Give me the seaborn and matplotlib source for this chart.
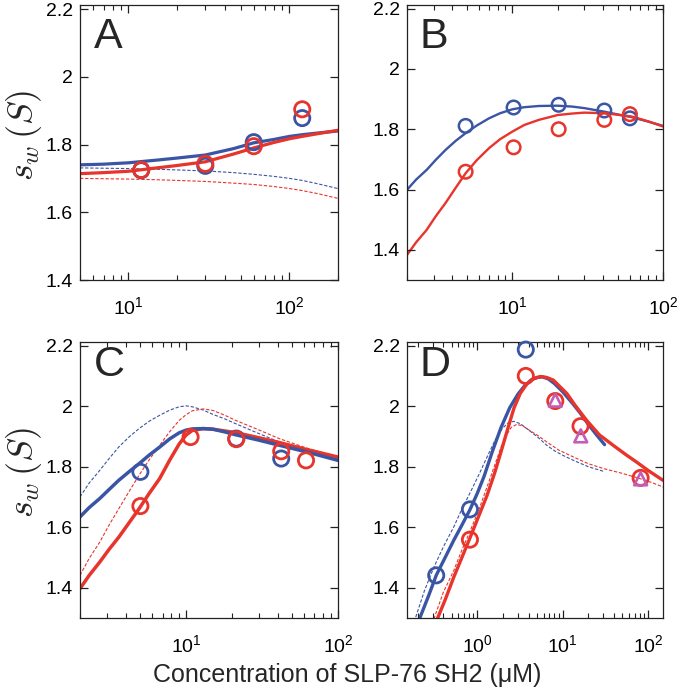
import matplotlib
matplotlib.use('Agg')
import matplotlib.pyplot as plt
import seaborn as sns
from matplotlib.ticker import LogLocator, NullFormatter, FuncFormatter

BLUE = '#3b55a5'
RED = '#e8342b'
PINK = '#c45db4'

# ---- panel A ----
a_x = [5, 7, 10, 15, 20, 30, 45, 60, 80, 100, 120, 150, 200]
a_blue_fit = [1.740, 1.742, 1.746, 1.754, 1.760, 1.769, 1.788, 1.805, 1.815, 1.824, 1.829, 1.834, 1.840]
a_red_fit = [1.714, 1.717, 1.721, 1.731, 1.738, 1.749, 1.772, 1.790, 1.806, 1.817, 1.824, 1.832, 1.842]
a_blue_dash = [1.731, 1.730, 1.729, 1.727, 1.725, 1.722, 1.717, 1.712, 1.706, 1.700, 1.694, 1.684, 1.670]
a_red_dash = [1.700, 1.699, 1.698, 1.696, 1.694, 1.691, 1.686, 1.682, 1.676, 1.670, 1.664, 1.655, 1.641]
a_conc = [12, 30, 60, 120]
a_blue_pts = [1.724, 1.737, 1.807, 1.878]
a_red_pts = [1.725, 1.743, 1.795, 1.904]

# ---- panel B ----
b_x = [2, 2.3, 2.7, 3.1, 3.6, 4.2, 4.9, 5.8, 7, 8.3, 10, 12, 15, 20, 25, 30, 41, 50, 62, 80, 100]
b_blue_fit = [1.599, 1.633, 1.665, 1.698, 1.731, 1.761, 1.787, 1.812, 1.836, 1.853, 1.866, 1.873, 1.877, 1.878,
              1.875, 1.870, 1.858, 1.849, 1.840, 1.825, 1.811]
b_red_fit = [1.383, 1.425, 1.466, 1.511, 1.555, 1.605, 1.654, 1.697, 1.737, 1.767, 1.792, 1.814, 1.831, 1.847,
             1.852, 1.855, 1.853, 1.848, 1.842, 1.826, 1.809]
b_conc = [4.9, 10.2, 20.3, 40.8, 60.3]
b_blue_pts = [1.811, 1.872, 1.881, 1.862, 1.836]
b_red_pts = [1.659, 1.740, 1.800, 1.831, 1.850]

# ---- panel C ----
c_x = [2, 2.3, 2.7, 3.1, 3.6, 4.2, 4.9, 5.7, 6.7, 7.8, 9, 10, 11, 13, 15, 18, 21, 30, 41, 62, 100]
c_blue_fit = [1.634, 1.665, 1.695, 1.724, 1.755, 1.783, 1.810, 1.838, 1.865, 1.892, 1.912, 1.921, 1.925, 1.926,
              1.924, 1.915, 1.906, 1.888, 1.871, 1.849, 1.821]
c_red_fit = [1.397, 1.441, 1.485, 1.526, 1.567, 1.614, 1.661, 1.711, 1.761, 1.822, 1.875, 1.905, 1.920, 1.926,
             1.924, 1.918, 1.913, 1.896, 1.880, 1.857, 1.832]
c_blue_dash = [1.700, 1.746, 1.788, 1.826, 1.865, 1.898, 1.926, 1.950, 1.970, 1.987, 1.998, 2.001, 1.998, 1.987,
               1.973, 1.958, 1.943, 1.910, 1.882, 1.854, 1.825]
c_red_dash = [1.441, 1.497, 1.551, 1.606, 1.661, 1.717, 1.772, 1.822, 1.871, 1.916, 1.953, 1.972, 1.985, 1.991,
              1.986, 1.970, 1.954, 1.922, 1.893, 1.862, 1.832]
c_blue_conc = [5, 21.4, 42.3]
c_blue_pts = [1.783, 1.893, 1.827]
c_red_conc = [5, 10.7, 21.4, 42.3, 61.6]
c_red_pts = [1.670, 1.898, 1.891, 1.851, 1.821]

# ---- panel D ----
d_blue_fit_x = [0.21, 0.27, 0.33, 0.42, 0.53, 0.66, 0.82, 1.0, 1.2, 1.5, 1.9, 2.4, 3.0, 3.6, 4.3, 5.0, 5.8, 6.8,
                8, 10, 13, 16, 20, 25, 31]
d_blue_fit = [1.297, 1.375, 1.441, 1.500, 1.557, 1.607, 1.658, 1.712, 1.768, 1.850, 1.930, 1.995, 2.040, 2.068,
              2.087, 2.095, 2.097, 2.090, 2.075, 2.048, 2.010, 1.978, 1.940, 1.905, 1.873]
d_red_fit_x = [0.34, 0.42, 0.53, 0.66, 0.83, 1.0, 1.3, 1.6, 1.9, 2.3, 2.7, 3.2, 3.8, 4.5, 5.5, 6.5, 7.8, 9.5,
               11.2, 14, 19, 27, 39, 55, 73, 100, 150]
d_red_fit = [1.297, 1.360, 1.435, 1.500, 1.568, 1.625, 1.705, 1.780, 1.850, 1.930, 1.995, 2.043, 2.073, 2.090,
             2.098, 2.095, 2.086, 2.062, 2.042, 2.003, 1.954, 1.905, 1.871, 1.840, 1.816, 1.788, 1.755]
d_blue_dash_x = [0.19, 0.24, 0.31, 0.4, 0.53, 0.66, 0.83, 1.05, 1.3, 1.6, 1.9, 2.24, 2.67, 3.2, 3.8, 4.5, 5.5,
                 6.5, 8, 10, 13.4, 20, 30]
d_blue_dash = [1.303, 1.390, 1.468, 1.535, 1.601, 1.660, 1.716, 1.775, 1.832, 1.885, 1.921, 1.943, 1.950, 1.942,
               1.926, 1.910, 1.890, 1.871, 1.853, 1.838, 1.821, 1.800, 1.785]
d_red_dash_x = [0.31, 0.4, 0.53, 0.66, 0.83, 1.05, 1.3, 1.6, 1.9, 2.2, 2.5, 2.9, 3.4, 4.2, 5, 6.5, 9, 13.4, 20,
                30, 50, 80, 110, 150]
d_red_dash = [1.297, 1.385, 1.457, 1.525, 1.590, 1.660, 1.733, 1.805, 1.865, 1.905, 1.930, 1.940, 1.935, 1.918,
              1.905, 1.882, 1.855, 1.832, 1.810, 1.794, 1.778, 1.761, 1.748, 1.733]
d_blue_conc = [0.33, 0.82, 3.7]
d_blue_pts = [1.441, 1.659, 2.187]
d_red_conc = [0.82, 3.7, 8.2, 16.2, 82]
d_red_pts = [1.559, 2.100, 2.017, 1.934, 1.763]
d_tri_conc = [8.2, 16.3, 82]
d_tri_pts = [2.020, 1.902, 1.760]

y_ticks = [1.4, 1.6, 1.8, 2.0, 2.2]

sns.set_style('ticks')
plt.rcParams['font.family'] = ['Liberation Sans', 'DejaVu Sans']
plt.rcParams.update({
    'axes.linewidth': 0.9,
    'axes.edgecolor': '#222222',
    'axes.axisbelow': False,
    'xtick.direction': 'in', 'ytick.direction': 'in',
    'xtick.top': True, 'ytick.right': True,
    'xtick.color': '#222222', 'ytick.color': '#222222',
    'xtick.major.size': 6, 'ytick.major.size': 6,
    'xtick.minor.size': 3.5, 'ytick.minor.size': 3.5,
    'xtick.major.width': 0.9, 'ytick.major.width': 0.9,
    'xtick.minor.width': 0.8, 'ytick.minor.width': 0.8,
    'xtick.labelcolor': 'black', 'ytick.labelcolor': 'black',
})

fig = plt.figure(figsize=(6.8, 6.9), dpi=100)

DASH = (0, (3, 1.6))


def make_panel(rect, letter, xlim, ylim, letter_pos):
    ax = fig.add_axes(rect)
    ax.set_axisbelow(False)
    ax.set_xscale('log')
    ax.set_xlim(*xlim)
    ax.set_ylim(*ylim)
    ax.set_yticks(y_ticks)
    ax.yaxis.set_major_formatter(FuncFormatter(lambda v, _: '%g' % v))
    ax.xaxis.set_major_locator(LogLocator(base=10, numticks=12))
    ax.xaxis.set_minor_locator(LogLocator(base=10, subs=range(2, 10), numticks=12))
    ax.xaxis.set_minor_formatter(NullFormatter())
    ax.tick_params(axis='both', which='major', labelsize=14)
    ax.tick_params(axis='x', which='major', pad=12)
    ax.tick_params(axis='y', which='major', pad=5)
    ax.text(letter_pos[0], letter_pos[1], letter, transform=ax.transAxes, fontsize=31, ha='left', va='top')
    return ax


def curve(ax, x, y, color, lw, dashed=False):
    sns.lineplot(x=x, y=y, ax=ax, color=color, lw=lw, estimator=None, sort=False,
                 linestyle=DASH if dashed else '-')


def dots(ax, x, y, color, s, lw, marker='o'):
    sns.scatterplot(x=x, y=y, ax=ax, marker=marker, s=s, facecolor='none', edgecolor=color,
                    linewidth=lw, zorder=4, clip_on=False)


axA = make_panel([0.1176, 0.5942, 0.3794, 0.3986], 'A', (5, 200), (1.4, 2.212), (0.055, 0.955))
curve(axA, a_x, a_blue_dash, BLUE, 0.8, True)
curve(axA, a_x, a_red_dash, RED, 0.8, True)
curve(axA, a_x, a_blue_fit, BLUE, 2.3)
curve(axA, a_x, a_red_fit, RED, 2.3)
dots(axA, a_conc, a_blue_pts, BLUE, 120, 2.0)
dots(axA, a_conc, a_red_pts, RED, 120, 2.0)

axB = make_panel([0.5985, 0.5942, 0.3765, 0.3986], 'B', (2, 100), (1.3, 2.212), (0.05, 0.955))
curve(axB, b_x, b_blue_fit, BLUE, 1.7)
curve(axB, b_x, b_red_fit, RED, 1.7)
dots(axB, b_conc, b_blue_pts, BLUE, 95, 1.8)
dots(axB, b_conc, b_red_pts, RED, 95, 1.8)

axC = make_panel([0.1176, 0.1043, 0.3794, 0.4], 'C', (2, 100), (1.3, 2.212), (0.055, 0.99))
curve(axC, c_x, c_blue_dash, BLUE, 0.8, True)
curve(axC, c_x, c_red_dash, RED, 0.8, True)
curve(axC, c_x, c_red_fit, RED, 2.5)
curve(axC, c_x, c_blue_fit, BLUE, 2.5)
dots(axC, c_blue_conc, c_blue_pts, BLUE, 120, 2.0)
dots(axC, c_red_conc, c_red_pts, RED, 120, 2.0)

axD = make_panel([0.5985, 0.1043, 0.3765, 0.4], 'D', (0.15, 150), (1.3, 2.212), (0.05, 0.99))
curve(axD, d_blue_dash_x, d_blue_dash, BLUE, 0.8, True)
curve(axD, d_red_dash_x, d_red_dash, RED, 0.8, True)
curve(axD, d_blue_fit_x, d_blue_fit, BLUE, 2.4)
curve(axD, d_red_fit_x, d_red_fit, RED, 2.4)
dots(axD, d_blue_conc, d_blue_pts, BLUE, 120, 2.0)
dots(axD, d_red_conc, d_red_pts, RED, 120, 2.0)
dots(axD, d_tri_conc, d_tri_pts, PINK, 85, 1.9, marker='^')

for ax in (axA, axB, axC, axD):
    ax.set_xlabel('')
    ax.set_ylabel('')

fig.text(0.035, 0.804, r'$s_w\,(S)$', math_fontfamily='cm', fontsize=26, rotation=90, ha='center', va='center')
fig.text(0.035, 0.316, r'$s_w\,(S)$', math_fontfamily='cm', fontsize=26, rotation=90, ha='center', va='center')
fig.text(0.51, 0.012, 'Concentration of SLP-76 SH2 (\u03bcM)', fontsize=18, ha='center', va='baseline')

fig.savefig('out.png', dpi=100)
